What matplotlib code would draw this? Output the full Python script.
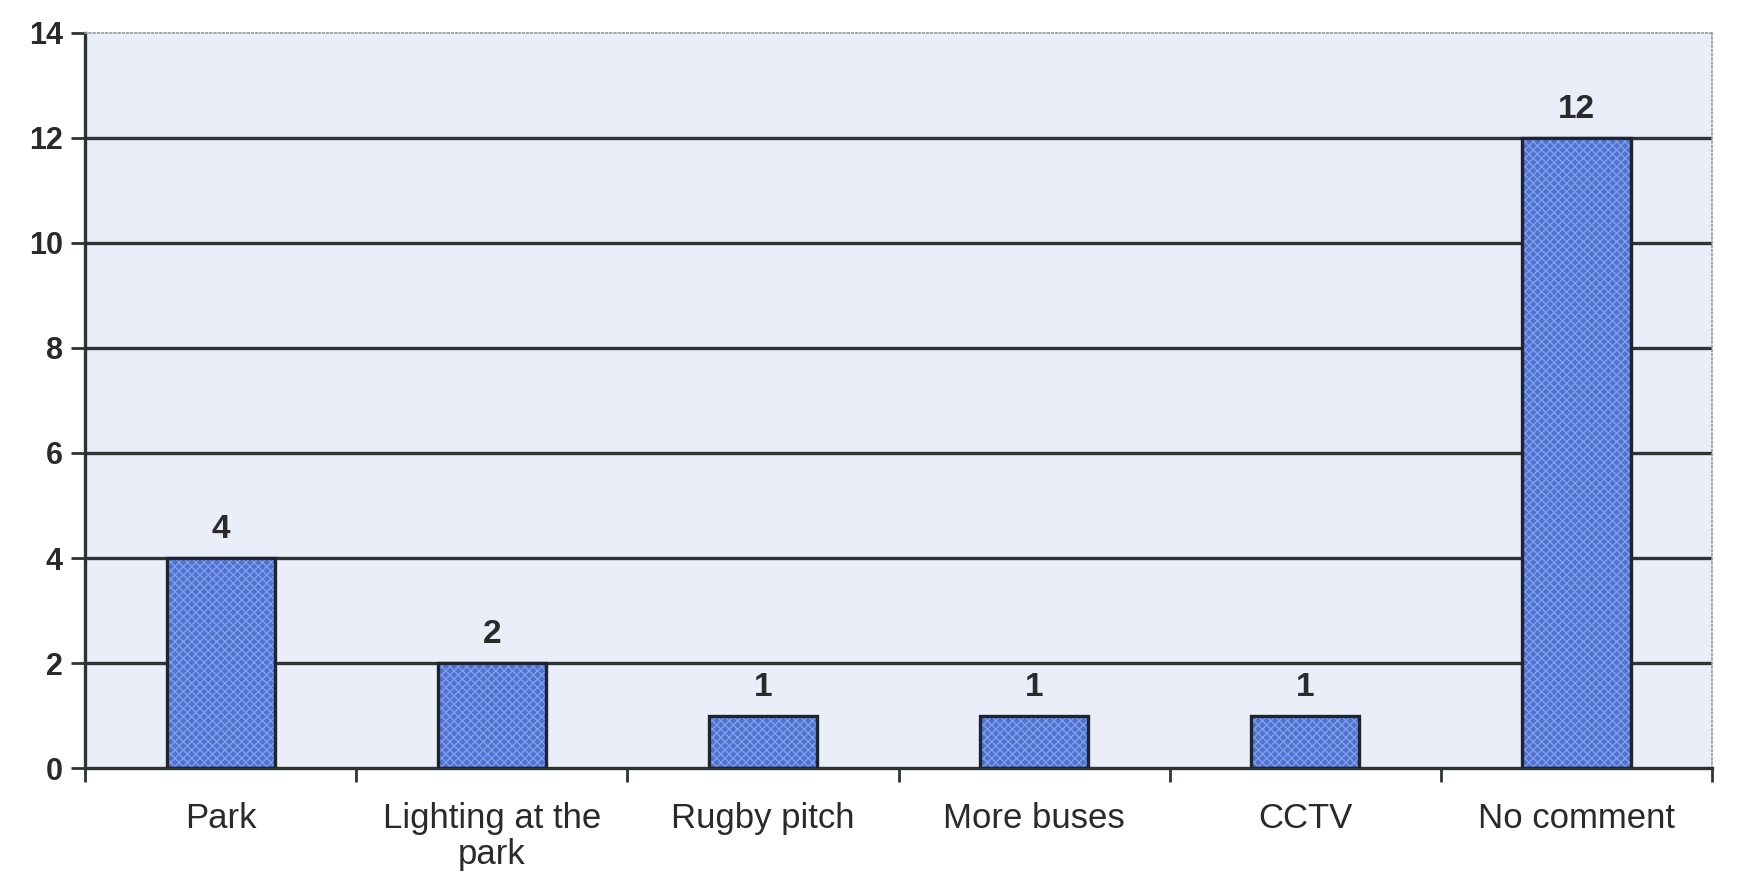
import matplotlib.pyplot as plt
import numpy as np

plt.rcParams['font.family'] = ['Liberation Sans', 'DejaVu Sans']

categories = ['Park', 'Lighting at the\npark', 'Rugby pitch', 'More buses', 'CCTV', 'No comment']
counts = [4, 2, 1, 1, 1, 12]
y_ticks = [0, 2, 4, 6, 8, 10, 12, 14]

fig = plt.figure(figsize=(17.38, 8.85), dpi=100)
ax = fig.add_axes([0.049, 0.132, 0.936, 0.831])
ax.set_facecolor('#e9eef8')

x = np.arange(len(categories))

# gridlines behind bars
for y in y_ticks[1:-1]:
    ax.axhline(y, color='#2e3434', linewidth=2.4, zorder=1)

# textured fill, then dark outline
ax.bar(x, counts, width=0.4, color='#4f72d0', edgecolor='#7f9de8',
       hatch='xxxx', linewidth=0, zorder=2)
ax.bar(x, counts, width=0.4, fill=False, edgecolor='#1e2430',
       linewidth=2.4, zorder=3)

for xi, c in zip(x, counts):
    ax.text(xi, c + 0.25, str(c), ha='center', va='bottom',
            fontsize=24, fontweight='bold', color='#2a2a2a')

ax.set_xlim(-0.5, len(categories) - 0.5)
ax.set_ylim(0, 14)
ax.set_yticks(y_ticks)
ax.set_yticklabels([str(v) for v in y_ticks], fontsize=22, fontweight='bold',
                   color='#2a2a2a')

ax.set_xticks(x)
ax.set_xticklabels(categories, fontsize=25, color='#2a2a2a', linespacing=1.15)
ax.tick_params(axis='x', which='major', length=0, pad=24)
ax.set_xticks(np.arange(-0.5, len(categories), 1.0), minor=True)
ax.tick_params(axis='x', which='minor', length=10, width=2, color='#2e3434',
               direction='out')
ax.tick_params(axis='y', length=10, width=2, color='#2e3434', direction='out', pad=6)

for side in ['left', 'bottom']:
    ax.spines[side].set_color('#2e3434')
    ax.spines[side].set_linewidth(2.4)
for side in ['top', 'right']:
    ax.spines[side].set_color('#9a9a9a')
    ax.spines[side].set_linewidth(1.2)
    ax.spines[side].set_linestyle((0, (1, 1.5)))

fig.savefig('out.png', dpi=100, facecolor='white')
